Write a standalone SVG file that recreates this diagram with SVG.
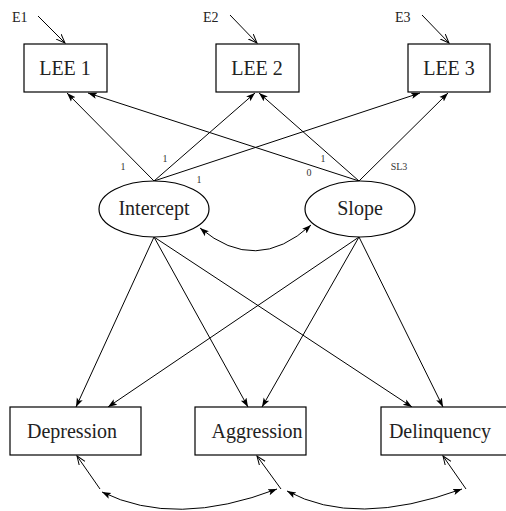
<svg xmlns="http://www.w3.org/2000/svg" width="506" height="511" viewBox="0 0 506 511">
<defs>
<marker id="fa" markerUnits="userSpaceOnUse" markerWidth="12" markerHeight="10" refX="9" refY="4" orient="auto-start-reverse">
<path d="M0,0.8 L9,4 L0,7.2 L2,4 Z" fill="#000"/>
</marker>
<marker id="oa" markerUnits="userSpaceOnUse" markerWidth="12" markerHeight="10" refX="9" refY="4" orient="auto">
<path d="M0,0.5 L9,4 L0,7.5" fill="none" stroke="#000" stroke-width="1"/>
</marker>
<style>
rect,ellipse{fill:#fff;stroke:#000;stroke-width:1.2}
.t{font-family:"Liberation Serif","Times New Roman",serif;font-size:20px;fill:#222;text-anchor:middle}
.e{font-family:"Liberation Serif","Times New Roman",serif;font-size:14px;fill:#222}
.s{font-family:"Liberation Serif","Times New Roman",serif;font-size:10px;fill:#333;text-anchor:middle}
.c line,.c path{stroke:#000;stroke-width:1;fill:none}
.f{marker-end:url(#fa)}
.o{marker-end:url(#oa)}
.b{marker-start:url(#fa);marker-end:url(#fa)}
</style>
</defs>
<g class="c" id="connectors">
<line class="o" x1="38" y1="16" x2="65" y2="43"/>
<line class="o" x1="230" y1="15" x2="257" y2="43"/>
<line class="o" x1="422" y1="15" x2="449" y2="43"/>
<line class="f" x1="154" y1="181" x2="67" y2="93"/>
<line class="f" x1="154" y1="181" x2="255" y2="93"/>
<line class="f" x1="154" y1="181" x2="420" y2="93"/>
<line class="f" x1="359" y1="181" x2="88" y2="93"/>
<line class="f" x1="359" y1="181" x2="259" y2="93"/>
<line class="f" x1="359" y1="181" x2="448" y2="93"/>
<path class="b" d="M200,228 Q256,275 311,225"/>
<line class="f" x1="154" y1="237" x2="76" y2="407"/>
<line class="f" x1="154" y1="237" x2="248" y2="407"/>
<line class="f" x1="154" y1="237" x2="412" y2="407"/>
<line class="f" x1="359" y1="237" x2="108" y2="407"/>
<line class="f" x1="359" y1="237" x2="262" y2="407"/>
<line class="f" x1="359" y1="237" x2="443" y2="407"/>
<line class="o" x1="100" y1="489" x2="77" y2="456"/>
<line class="o" x1="281" y1="489" x2="257" y2="456"/>
<line class="o" x1="466" y1="489" x2="443" y2="456"/>
<path class="b" d="M102,492 Q175,528 277,489"/>
<path class="b" d="M287,491 Q355,528 462,489"/>
</g>
<g id="labels">
<text class="e" x="12" y="22">E1</text>
<text class="e" x="203" y="22">E2</text>
<text class="e" x="395" y="22">E3</text>
<text class="s" x="123" y="170">1</text>
<text class="s" x="165" y="162">1</text>
<text class="s" x="199" y="183">1</text>
<text class="s" x="323" y="162">1</text>
<text class="s" x="309" y="176">0</text>
<text class="s" x="399" y="170">SL3</text>
</g>
<g id="lee1"><rect x="24" y="44" width="83" height="48"/><text class="t" x="65" y="75">LEE 1</text></g>
<g id="lee2"><rect x="216" y="44" width="83" height="48"/><text class="t" x="257" y="75">LEE 2</text></g>
<g id="lee3"><rect x="408" y="44" width="82" height="48"/><text class="t" x="449" y="75">LEE 3</text></g>
<g id="intercept"><ellipse cx="154" cy="209" rx="55" ry="28"/><text class="t" x="154" y="215">Intercept</text></g>
<g id="slope"><ellipse cx="360" cy="209" rx="55" ry="28"/><text class="t" x="360" y="215">Slope</text></g>
<g id="depression"><rect x="10" y="407" width="131" height="48"/><text class="t" x="72" y="438">Depression</text></g>
<g id="aggression"><rect x="195" y="407" width="111" height="48"/><text class="t" x="257" y="438">Aggression</text></g>
<g id="delinquency"><rect x="381" y="407" width="135" height="48"/><text class="t" x="440" y="438">Delinquency</text></g>
</svg>
